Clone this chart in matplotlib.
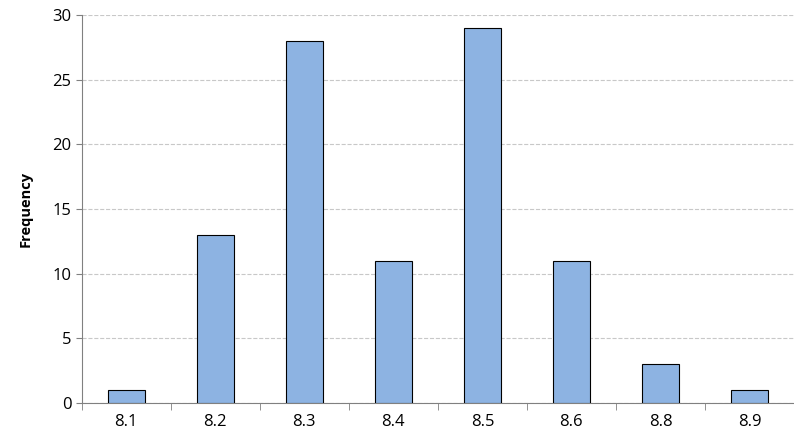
import matplotlib.pyplot as plt
import numpy as np

plt.rcParams['font.family'] = ['Open Sans', 'DejaVu Sans']

categories = ['8.1', '8.2', '8.3', '8.4', '8.5', '8.6', '8.8', '8.9']
freq = [1, 13, 28, 11, 29, 11, 3, 1]

fig = plt.figure(figsize=(7.94, 4.44), dpi=100)
ax = fig.add_axes([0.103, 0.092, 0.897, 0.874])

x = np.arange(len(categories))
ax.bar(x, freq, 0.41, color='#8DB3E2', edgecolor='black', linewidth=0.8, zorder=3)

ax.set_xlim(-0.5, len(categories) - 0.5)
ax.set_ylim(0, 30)
ax.set_yticks(range(0, 31, 5))
ax.yaxis.grid(True, linestyle='--', color='#c8c8c8', linewidth=0.8, zorder=0)

ax.set_xticks(x)
ax.set_xticklabels(categories)
ax.set_xticks(np.arange(-0.5, len(categories) + 0.5, 1), minor=True)
ax.tick_params(axis='x', which='major', length=0, labelsize=12, pad=8)
ax.tick_params(axis='x', which='minor', length=5, direction='out', color='#808080')
ax.tick_params(axis='y', labelsize=12, length=4, color='#808080')

ax.set_ylabel('Frequency', fontsize=10.5, fontweight='bold', labelpad=14)
for s in ['top', 'right']:
    ax.spines[s].set_visible(False)
ax.spines['left'].set_color('#808080')
ax.spines['bottom'].set_color('#808080')

fig.savefig('out.png', dpi=100, facecolor='white')
